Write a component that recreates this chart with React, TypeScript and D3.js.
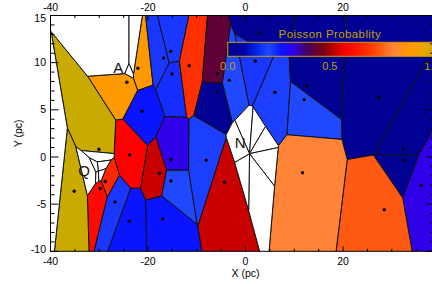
import * as d3 from 'd3'

const W = 432
const H = 284

// sites of the tessellation (pc) and their Poisson probability
const siteX = [-22.07, -24.33, -21.25, -16.82, -15.34, -15.1, -11.55, -5.8, -3.34, -5.87, 2.87, 1.99, 6.03, 12.6, 12.04, 27.4, 32.4, 32.4, 36.0, 28.45, 11.7, -4.31, -8.06, -15.3, -17.64, -15.3, -16.98, -23.86, -26.77, -23.8, -28.78, -29.8, -30.07, -35.14]
const siteY = [9.41, 7.92, 4.85, 10.5, 11.2, 8.8, 9.68, 8.8, 8.13, 6.89, 13.18, 10.18, 6.86, 7.53, 6.08, 6.3, 0.85, -0.35, -3.0, -5.59, -1.66, -2.68, -0.35, -0.27, -1.73, -2.55, -6.57, -6.82, -4.77, 0.24, -2.6, -3.34, 0.82, -3.64]
const siteProb = [0.88, 0.88, 0.26, 0.22, 0.22, 0.23, 0.68, 0.42, 0.2, 0.02, 0.02, 0.22, 0.21, 0.02, 0.2, 0.02, 0.02, 0.02, 0.32, 0.74, 0.8, 0.52, 0.21, 0.32, 0.52, 0.2, 0.26, 0.26, 0.22, 0.58, 0.66, 0.6, 1.0, 1.0]

// group members and edge sites, left unfilled
const groupX = [-40.45, -24.4, -23.4, -23.9, -30.1, -31.0, -30.0, -30.5, -30.4, -29.9, 0.758, 0.966, 1.098, 1.116, 0.979, 0.646, 0.54]
const groupY = [-2.56, 9.8, 9.8, 9.4, 0.2, -1.75, -1.2, -1.3, -1.8, -1.75, 0.643, 0.612, 0.462, 0.3, 0.096, 0.106, 0.457]

const groupNames = ['A', 'Q', 'N']
const groupLabelX = [-26.1, -33.1, -1.1]
const groupLabelY = [9.5, -1.4, 1.5]

const xMajor = [-40, -20, 0, 20]
const yMajor = [15, 10, 5, 0, -5, -10]
const barTicks = [0, 0.5, 1]
const barLabels = ['0.0', '0.5', '1.0']

const cmapStops = [0, 0.08, 0.14, 0.2, 0.26, 0.32, 0.38, 0.42, 0.47, 0.52, 0.58, 0.68, 0.74, 0.8, 0.88, 0.95, 1]
const cmapColors = ['#00008c', '#0000a8', '#0024e8', '#2048ff', '#0a14ff', '#3000e8', '#40006a', '#600038', '#800010', '#c80000', '#ff0000', '#ff3000', '#ff5a14', '#ff8438', '#ff9900', '#eaa400', '#c8aa00']

const GOLD = '#c8a000'
const FONT = 'Liberation Sans, Arial, Helvetica, sans-serif'

export default function App() {
  const x = d3.scaleLinear().domain([-40, 38.7]).range([50.5, 434.2])
  const y = d3.scaleLinear().domain([-10, 15]).range([251.3, 15.5])
  const color = d3.scaleLinear<string>().domain(cmapStops).range(cmapColors).clamp(true)
  const bar = d3.scaleLinear().domain([0, 1]).range([227.7, 432])

  const allX = siteX.concat(groupX)
  const allY = siteY.concat(groupY)
  const pts = allX.map((d, i) => [d, allY[i]] as [number, number])
  const vor = d3.Delaunay.from(pts).voronoi([-70, -40, 70, 50])

  const cells = pts.map((_, i) => {
    const poly = vor.cellPolygon(i)
    if (!poly) return null
    const d = 'M' + poly.map(p => `${x(p[0]).toFixed(2)},${y(p[1]).toFixed(2)}`).join('L') + 'Z'
    const fill = i < siteX.length ? color(siteProb[i]) : '#ffffff'
    return <path key={i} d={d} fill={fill} stroke="#111" strokeWidth={1} strokeLinejoin="round" />
  })

  const [x0, x1] = x.range()
  const [y0, y1] = y.range()
  const xMinor = d3.range(-40, 39, 5)
  const yMinor = d3.range(-10, 16, 1)

  return (
    <svg width={W} height={H} style={{ position: 'fixed', left: 0, top: 0, background: '#fff' }} fontFamily={FONT}>
      <defs>
        <clipPath id="plot">
          <rect x={x0} y={y1} width={x1 - x0} height={y0 - y1} />
        </clipPath>
        <linearGradient id="cbar" x1="0" x2="1" y1="0" y2="0">
          {cmapStops.map((s, i) => (
            <stop key={i} offset={s} stopColor={cmapColors[i]} />
          ))}
        </linearGradient>
      </defs>

      <g clipPath="url(#plot)">
        {cells}
        {siteX.map((d, i) => (
          <circle key={i} cx={x(d)} cy={y(siteY[i])} r={1.7} fill="#000" />
        ))}
        {groupNames.map((n, i) => (
          <text key={n} x={x(groupLabelX[i])} y={y(groupLabelY[i])} dy="0.36em" textAnchor="middle" fontSize={15} fill="#111">
            {n}
          </text>
        ))}
      </g>

      {/* colour bar */}
      <rect x={bar(0)} y={42.3} width={bar(1) - bar(0) + 2} height={14} fill="url(#cbar)" stroke={GOLD} strokeWidth={1} />
      <text x={(bar(0) + bar(1)) / 2} y={38} textAnchor="middle" fontSize={11.5} fill={GOLD} letterSpacing={0.4}>
        Poisson Probablity
      </text>
      {barTicks.map((t, i) => (
        <text key={t} x={bar(t)} y={69.5} textAnchor="middle" fontSize={11} fill={GOLD}>
          {barLabels[i]}
        </text>
      ))}

      {/* frame and ticks */}
      <rect x={x0} y={y1} width={x1 - x0} height={y0 - y1} fill="none" stroke="#000" strokeWidth={1} />
      {xMinor.map(t => {
        const len = xMajor.includes(t) ? 5 : 2.5
        return (
          <g key={'xt' + t}>
            <line x1={x(t)} x2={x(t)} y1={y0} y2={y0 - len} stroke="#000" />
            <line x1={x(t)} x2={x(t)} y1={y1} y2={y1 + len} stroke="#000" />
          </g>
        )
      })}
      {yMinor.map(t => {
        const len = yMajor.includes(t) ? 8 : 4
        return (
          <g key={'yt' + t}>
            <line x1={x0} x2={x0 + len} y1={y(t)} y2={y(t)} stroke="#000" />
            <line x1={x1} x2={x1 - len} y1={y(t)} y2={y(t)} stroke="#000" />
          </g>
        )
      })}
      {xMajor.map(t => (
        <g key={'xl' + t} fontSize={10.5} textAnchor="middle" fill="#000">
          <text x={x(t)} y={264.5}>{t}</text>
          <text x={x(t)} y={11}>{t}</text>
        </g>
      ))}
      {yMajor.map(t => (
        <text key={'yl' + t} x={46} y={Math.min(Math.max(y(t), 18.5), 249.5)} dy="0.35em" textAnchor="end" fontSize={10.5} fill="#000">
          {t}
        </text>
      ))}
      <text x={x(0)} y={276.5} textAnchor="middle" fontSize={10.5}>X (pc)</text>
      <text transform={`translate(22,${(y0 + y1) / 2}) rotate(-90)`} textAnchor="middle" fontSize={10.5}>Y (pc)</text>
    </svg>
  )
}
